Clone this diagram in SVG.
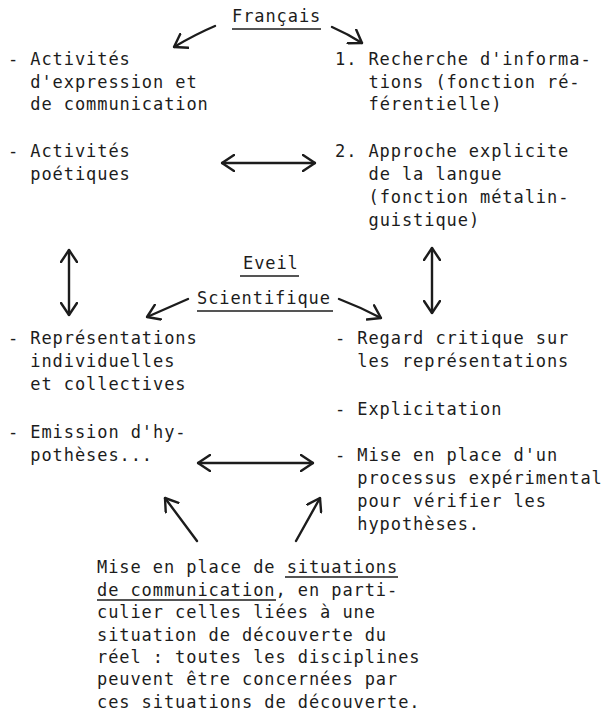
<svg xmlns="http://www.w3.org/2000/svg" width="605" height="712" viewBox="0 0 605 712">
<defs>
<style>
text{font-family:"DejaVu Sans Mono","Liberation Mono",monospace;font-size:17px;letter-spacing:0.92px;fill:#1c1c1c}
.c{fill:none;stroke:#1c1c1c;stroke-width:2.4;stroke-linecap:round;stroke-linejoin:round}
.u{stroke:#1c1c1c;stroke-width:1.6}
</style>
<marker id="ah" viewBox="0 0 14 18" refX="13" refY="9" markerWidth="14" markerHeight="18" markerUnits="userSpaceOnUse" orient="auto-start-reverse">
<path d="M1,1 L13,9 L1,17" fill="none" stroke="#1c1c1c" stroke-width="2.4" stroke-linecap="round" stroke-linejoin="round"/>
</marker>
</defs>
<rect width="605" height="712" fill="#ffffff"/>
<g id="francais">
<text x="232" y="22">Français</text>
<line class="u" x1="232" y1="29" x2="321" y2="29"/>
</g>
<g id="expression">
<text x="8" y="65">- Activités</text>
<text x="30.3" y="88">d'expression et</text>
<text x="30.3" y="110">de communication</text>
</g>
<g id="recherche">
<text x="335" y="65">1. Recherche d'informa-</text>
<text x="368.5" y="88">tions (fonction ré-</text>
<text x="368.5" y="110">férentielle)</text>
</g>
<g id="poetiques">
<text x="8" y="157">- Activités</text>
<text x="30.3" y="180">poétiques</text>
</g>
<g id="approche">
<text x="335" y="157">2. Approche explicite</text>
<text x="368.5" y="180">de la langue</text>
<text x="368.5" y="203">(fonction métalin-</text>
<text x="368.5" y="226">guistique)</text>
</g>
<g id="eveil">
<text x="243" y="269">Eveil</text>
<line class="u" x1="240" y1="276" x2="299" y2="276"/>
<text x="197" y="304">Scientifique</text>
<line class="u" x1="197" y1="311" x2="333" y2="311"/>
</g>
<g id="representations">
<text x="8" y="344">- Représentations</text>
<text x="30.3" y="367">individuelles</text>
<text x="30.3" y="390">et collectives</text>
</g>
<g id="regard">
<text x="335" y="344">- Regard critique sur</text>
<text x="357.3" y="367">les représentations</text>
</g>
<g id="explicitation">
<text x="335" y="415">- Explicitation</text>
</g>
<g id="emission">
<text x="8" y="438">- Emission d'hy-</text>
<text x="30.3" y="461">pothèses...</text>
</g>
<g id="processus">
<text x="335" y="461">- Mise en place d'un</text>
<text x="357.3" y="484">processus expérimental</text>
<text x="357.3" y="507">pour vérifier les</text>
<text x="357.3" y="530">hypothèses.</text>
</g>
<g id="situations">
<text x="97" y="573">Mise en place de situations</text>
<line class="u" x1="285" y1="577" x2="398" y2="577"/>
<text x="97" y="596">de communication, en parti-</text>
<line class="u" x1="97" y1="600" x2="276" y2="600"/>
<text x="97" y="618">culier celles liées à une</text>
<text x="97" y="641">situation de découverte du</text>
<text x="97" y="663">réel : toutes les disciplines</text>
<text x="97" y="685">peuvent être concernées par</text>
<text x="97" y="708">ces situations de découverte.</text>
</g>
<g id="connectors">
<path class="c" d="M215,26 Q196,34 174,47" marker-end="url(#ah)"/>
<path class="c" d="M332,27 Q348,34 362,43" marker-end="url(#ah)"/>
<path class="c" d="M222,163 L315,163" marker-start="url(#ah)" marker-end="url(#ah)"/>
<path class="c" d="M69,250 L69,315" marker-start="url(#ah)" marker-end="url(#ah)"/>
<path class="c" d="M432,248 L432,313" marker-start="url(#ah)" marker-end="url(#ah)"/>
<path class="c" d="M188,299 L147,317" marker-end="url(#ah)"/>
<path class="c" d="M339,299 Q360,307 381,318" marker-end="url(#ah)"/>
<path class="c" d="M198,463 L313,463" marker-start="url(#ah)" marker-end="url(#ah)"/>
<path class="c" d="M197,541 L165,498" marker-end="url(#ah)"/>
<path class="c" d="M296,541 L320,498" marker-end="url(#ah)"/>
</g>
</svg>
